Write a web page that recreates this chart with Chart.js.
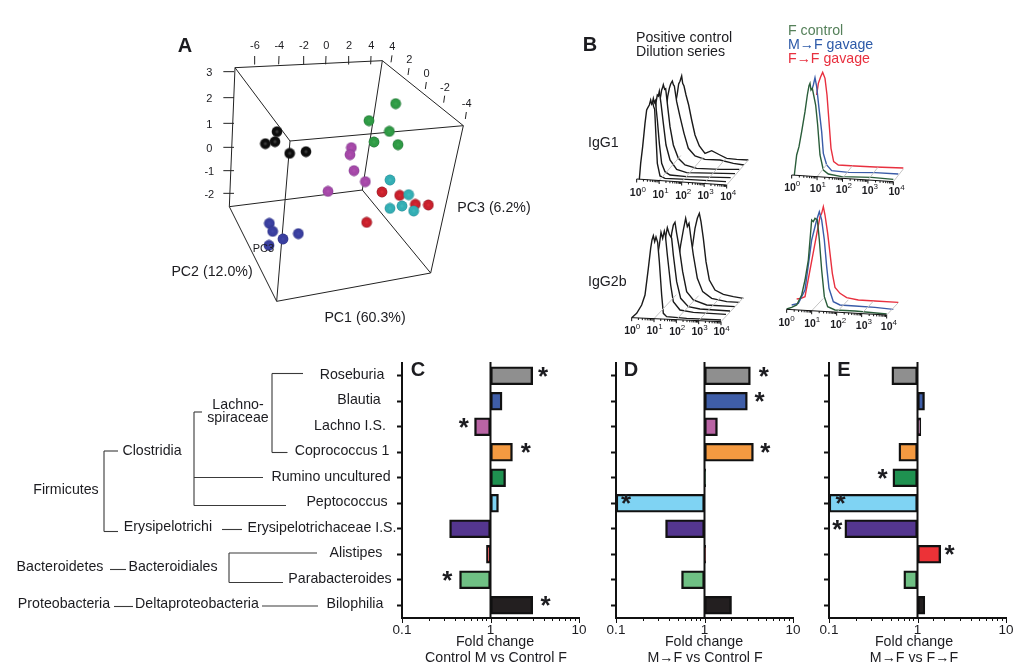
<!DOCTYPE html>
<html>
<head>
<meta charset="utf-8">
<title>Gut microbiota panels</title>
<script src="https://cdn.jsdelivr.net/npm/chart.js@4"></script>
<style>
    html, body { margin: 0; background: #fff; }
    #page { position: relative; width: 1025px; height: 669px; overflow: hidden; }
    #page canvas { position: absolute; }
</style>
</head>
<body>
<div id="page"></div>
<script>
const FONT = '"Liberation Sans", Arial, sans-serif';
const INK = '#1c1c20';

// ---- Panels C, D, E: fold change per genus ----
const genera = ['Roseburia', 'Blautia', 'Lachno I.S.', 'Coprococcus 1', 'Rumino uncultured', 'Peptococcus',
    'Erysipelotrichaceae I.S.', 'Alistipes', 'Parabacteroides', 'Bilophilia'];
const generaX = [352, 359, 350, 342, 331, 347, 322, 356, 340, 355];
const generaY = [375, 400, 426, 451, 477, 502, 528, 553, 579, 604];
const barColors = ['#8f8f8f', '#3f5ea8', '#b964a4', '#f49a41', '#1f9150', '#7fd3f3', '#54368f', '#ec3237', '#6fc084', '#231f20'];

const foldC = [3.0, 1.35, 0.66, 1.77, 1.48, 1.23, 0.345, 0.9, 0.447, 3.0];
const foldD = [3.3, 3.05, 1.4, 3.57, 1.03, 0.1, 0.363, 1.03, 0.55, 2.02];
const foldE = [0.513, 1.2, 1.09, 0.616, 0.527, 0.1, 0.151, 1.83, 0.70, 1.21];

const starsC = [3.93, null, 0.5, 2.5, null, null, null, null, 0.325, 4.2];
const starsD = [4.67, 4.2, null, 4.87, null, 0.13, null, null, null, null];
const starsE = [null, null, null, null, 0.403, 0.135, 0.124, 2.3, null, null];

// ---- Panel A: PCoA points as projected on the page (crop units) ----
const pcaBlack = [[351, 305], [345, 335], [316, 341], [389, 370], [438, 365]];
const pcaGreen = [[707, 221], [627, 272], [688, 304], [642, 336], [714, 344]];
const pcaPurple = [[574, 353], [570, 374], [582, 422], [616, 455], [504, 484]];
const pcaCyan = [[690, 450], [746, 494], [726, 528], [690, 535], [761, 543]];
const pcaRed = [[666, 486], [719, 496], [766, 523], [805, 525], [620, 577]];
const pcaBlue = [[328, 580], [338, 604], [415, 611], [369, 627], [327, 646]];

const cubeEdges = [
    [[225, 113], [667, 92]], [[667, 92], [910, 287]], [[910, 287], [390, 333]], [[390, 333], [225, 113]],
    [[225, 113], [208, 530]], [[667, 92], [607, 480]], [[910, 287], [812, 729]], [[390, 333], [350, 814]],
    [[208, 530], [607, 480]], [[607, 480], [812, 729]], [[812, 729], [350, 814]], [[350, 814], [208, 530]]
];
const topTicks = ['-6', '-4', '-2', '0', '2', '4'];
const topTickX = [283, 356, 430, 497, 565, 632];
const sideTicks = ['4', '2', '0', '-2', '-4'];
const sideTickX = [697, 748, 800, 855, 920];
const sideTickY = [52, 90, 132, 173, 222];
const leftTicks = ['3', '2', '1', '0', '-1', '-2'];
const leftTickY = [125, 203, 280, 352, 422, 490];

// ---- Panel B: flow cytometry histograms (crop units), front trace first ----
const igg1Dilution = [
    [[58, 328], [62, 280], [68, 230], [72, 190], [75, 160], [80, 120], [84, 112], [88, 105], [92, 90], [95, 102], [98, 96], [101, 110], [104, 118], [108, 200], [112, 280], [120, 318], [135, 325], [200, 328], [318, 335]],
    [[90, 150], [95, 108], [100, 85], [103, 98], [106, 92], [112, 150], [118, 220], [125, 280], [135, 305], [150, 315], [200, 320], [332, 323]],
    [[104, 150], [108, 98], [112, 75], [115, 78], [118, 64], [123, 100], [130, 160], [138, 225], [150, 270], [170, 298], [200, 308], [345, 311]],
    [[116, 140], [120, 90], [125, 60], [128, 52], [130, 44], [134, 58], [137, 56], [143, 110], [150, 170], [160, 225], [175, 265], [195, 285], [230, 295], [300, 298], [358, 298]],
    [[138, 130], [143, 80], [148, 55], [152, 42], [157, 33], [160, 44], [163, 48], [170, 95], [180, 140], [192, 190], [205, 235], [225, 258], [255, 268], [300, 270], [340, 280], [372, 285]],
    [[165, 110], [172, 70], [176, 42], [180, 34], [185, 18], [188, 40], [192, 48], [198, 75], [206, 105], [215, 150], [225, 195], [238, 228], [255, 250], [275, 242], [300, 255], [320, 265], [350, 268], [385, 270]]
];
const igg2bDilution = [
    [[35, 338], [50, 325], [65, 300], [75, 270], [85, 190], [92, 130], [96, 105], [100, 92], [104, 110], [108, 96], [113, 112], [118, 170], [125, 270], [130, 325], [140, 335], [200, 340], [303, 345]],
    [[113, 150], [118, 120], [123, 82], [128, 100], [133, 78], [136, 90], [142, 150], [152, 240], [160, 290], [180, 315], [220, 322], [318, 328]],
    [[132, 130], [137, 95], [142, 68], [148, 88], [155, 100], [160, 150], [170, 230], [182, 280], [205, 305], [240, 312], [330, 318]],
    [[150, 130], [155, 85], [160, 60], [165, 52], [170, 85], [178, 130], [188, 200], [200, 260], [220, 285], [260, 300], [345, 305]],
    [[178, 145], [182, 120], [190, 75], [197, 40], [202, 65], [207, 55], [213, 100], [220, 150], [232, 220], [248, 260], [275, 280], [320, 290], [358, 292]],
    [[214, 150], [218, 120], [225, 70], [232, 40], [238, 25], [243, 50], [250, 100], [258, 170], [268, 225], [285, 255], [310, 268], [340, 275], [370, 280]]
];
const igg1GreenTrace = [[58, 330], [65, 270], [72, 245], [80, 200], [90, 140], [97, 90], [102, 62], [105, 55], [108, 75], [112, 70], [122, 120], [128, 180], [135, 270], [145, 315], [160, 327], [200, 335], [290, 337], [355, 343]];
const igg1BlueTrace = [[112, 70], [115, 60], [120, 38], [125, 65], [132, 130], [140, 200], [145, 265], [155, 300], [170, 317], [220, 322], [300, 323], [370, 327]];
const igg1RedTrace = [[125, 90], [130, 55], [137, 35], [143, 22], [150, 40], [156, 90], [162, 170], [168, 250], [176, 290], [190, 300], [240, 303], [300, 306], [385, 309]];
const igg2bGreenTrace = [[35, 327], [50, 322], [65, 315], [80, 285], [90, 240], [100, 180], [110, 60], [115, 65], [120, 55], [127, 60], [133, 120], [140, 210], [148, 290], [158, 320], [180, 330], [240, 333], [335, 342]];
const igg2bBlueTrace = [[50, 315], [70, 310], [90, 270], [110, 120], [125, 60], [133, 35], [140, 60], [148, 120], [155, 200], [162, 265], [175, 305], [195, 315], [240, 318], [300, 322], [355, 328]];
const igg2bRedTrace = [[65, 297], [78, 295], [90, 290], [135, 50], [140, 40], [145, 20], [150, 45], [158, 100], [165, 160], [172, 220], [180, 262], [195, 280], [215, 293], [250, 300], [300, 303], [370, 307]];
const decadeLabels = ['0', '1', '2', '3', '4'];

// ---- Taxonomy tree lines and labels (page px) ----
const treeSegments = [
    [272, 373.5, 272, 452.5], [272, 373.5, 303, 373.5], [272, 452.5, 287.5, 452.5],
    [194, 412, 194, 505.5], [194, 412, 202, 412], [194, 477.5, 263, 477.5], [194, 505.5, 286, 505.5],
    [104, 451, 104, 531.5], [104, 451, 118, 451], [104, 531.5, 118, 531.5], [222, 529.5, 242, 529.5],
    [229, 553, 229, 582.5], [229, 553, 317, 553], [229, 582.5, 283, 582.5],
    [110, 569.5, 126, 569.5], [114, 606.5, 133, 606.5], [262, 606, 318, 606]
];
const treeLabels = [
    ['Firmicutes', 66, 490], ['Clostridia', 152, 451], ['Erysipelotrichi', 168, 527],
    ['Lachno-', 238, 405], ['spiraceae', 238, 418], ['Bacteroidetes', 60, 567],
    ['Bacteroidiales', 173, 567], ['Proteobacteria', 64, 604], ['Deltaproteobacteria', 197, 604]
];

function addCanvas(x, y, w, h) {
    const canvas = document.createElement('canvas');
    canvas.width = w;
    canvas.height = h;
    canvas.style.left = x + 'px';
    canvas.style.top = y + 'px';
    canvas.style.width = w + 'px';
    canvas.style.height = h + 'px';
    document.getElementById('page').appendChild(canvas);
    return canvas;
}

/** Writes text items through the chart's own x and y scales. */
function notesPlugin(items) {
    return {
        id: 'notes',
        afterDraw(chart) {
            const ctx = chart.ctx;
            ctx.save();
            items.forEach(item => {
                const px = chart.scales.x.getPixelForValue(item.x);
                const py = chart.scales.y.getPixelForValue(item.y);
                ctx.fillStyle = item.color || INK;
                ctx.font = item.font || `14.2px ${FONT}`;
                ctx.textAlign = item.align || 'center';
                ctx.textBaseline = 'middle';
                ctx.fillText(item.text, px, py);
                if (item.sup) {
                    const w = ctx.measureText(item.text).width;
                    ctx.font = `8px ${FONT}`;
                    ctx.textAlign = 'left';
                    ctx.fillText(item.sup, px + w / 2, py - 4);
                }
            });
            ctx.restore();
        }
    };
}

function edge(a, b, color, width) {
    return {
        data: [{ x: a[0], y: a[1] }, { x: b[0], y: b[1] }],
        showLine: true, pointRadius: 0, borderColor: color, borderWidth: width, tension: 0
    };
}

/** Scatter chart with hidden axes that span the given crop units. */
function flatChart(canvas, maxX, maxY, datasets, items, extraPlugins = []) {
    return new Chart(canvas, {
        type: 'scatter',
        data: { datasets },
        options: {
            responsive: false,
            animation: false,
            events: [],
            layout: { padding: 0, autoPadding: false },
            plugins: { legend: { display: false }, tooltip: { enabled: false } },
            scales: {
                x: { type: 'linear', display: false, min: 0, max: maxX },
                y: { type: 'linear', display: false, min: 0, max: maxY, reverse: true }
            }
        },
        plugins: [notesPlugin(items), ...extraPlugins]
    });
}

function drawPage() {
    const texts = [
        { text: 'A', x: 185, y: 46, font: `bold 20px ${FONT}` },
        { text: 'B', x: 590, y: 45, font: `bold 20px ${FONT}` },
        { text: 'C', x: 418, y: 370, font: `bold 20px ${FONT}` },
        { text: 'D', x: 631, y: 370, font: `bold 20px ${FONT}` },
        { text: 'E', x: 844, y: 370, font: `bold 20px ${FONT}` },
        { text: 'Positive control', x: 636, y: 38, align: 'left' },
        { text: 'Dilution series', x: 636, y: 52, align: 'left' },
        { text: 'F control', x: 788, y: 31, align: 'left', color: '#55805a' },
        { text: 'M\u2192F gavage', x: 788, y: 45, align: 'left', color: '#2d5aa8' },
        { text: 'F\u2192F gavage', x: 788, y: 59, align: 'left', color: '#e8303f' },
        { text: 'IgG1', x: 588, y: 143, align: 'left' },
        { text: 'IgG2b', x: 588, y: 282, align: 'left' },
        { text: 'PC3 (6.2%)', x: 494, y: 208 },
        { text: 'PC2 (12.0%)', x: 212, y: 272 },
        { text: 'PC1 (60.3%)', x: 365, y: 318 },
        { text: 'Fold change', x: 495, y: 642 },
        { text: 'Control M vs Control F', x: 496, y: 658 },
        { text: 'Fold change', x: 704, y: 642 },
        { text: 'M\u2192F vs Control F', x: 705, y: 658 },
        { text: 'Fold change', x: 914, y: 642 },
        { text: 'M\u2192F vs F\u2192F', x: 914, y: 658 }
    ];
    genera.forEach((name, i) => texts.push({ text: name, x: generaX[i], y: generaY[i] }));
    treeLabels.forEach(([text, x, y]) => texts.push({ text, x, y }));
    const lines = treeSegments.map(s => edge([s[0], s[1]], [s[2], s[3]], '#3a3a3a', 1.1));
    flatChart(addCanvas(0, 0, 1025, 669), 1025, 669, lines, texts);
}

function ballSprite(core, color, rim) {
    const sprite = document.createElement('canvas');
    sprite.width = 12;
    sprite.height = 12;
    const g = sprite.getContext('2d');
    const shade = g.createRadialGradient(6, 6, 0.5, 6, 6, 5.5);
    shade.addColorStop(0, core);
    shade.addColorStop(0.35, color);
    shade.addColorStop(0.75, color);
    shade.addColorStop(1, rim);
    g.fillStyle = shade;
    g.beginPath();
    g.arc(6, 6, 5.4, 0, Math.PI * 2);
    g.fill();
    return sprite;
}

function drawPanelA() {
    const groups = [
        [pcaBlack, '#3c3c3c', '#0d0d0d', '#2a2a2a'], [pcaGreen, '#39a54e', '#2f9a45', '#1f6e33'],
        [pcaPurple, '#b050b0', '#a548a8', '#80408f'], [pcaCyan, '#40b8bc', '#33aeb4', '#2a8c96'],
        [pcaRed, '#d82a34', '#c8202c', '#8e1f2a'], [pcaBlue, '#4347a8', '#3a3f9f', '#2d3183']
    ];
    const datasets = groups.map(([pts, core, color, rim]) => ({
        data: pts.map(p => ({ x: p[0], y: p[1] })),
        pointStyle: ballSprite(core, color, rim)
    }));
    cubeEdges.forEach(e => datasets.push(edge(e[0], e[1], '#222', 1)));
    topTickX.forEach(x => datasets.push(edge([x, 103], [x + 1, 78], '#222', 1)));
    sideTickX.forEach((x, i) => datasets.push(edge([x - 4, sideTickY[i] + 45], [x - 1, sideTickY[i] + 24], '#222', 1)));
    leftTickY.forEach(y => datasets.push(edge([190, y], [222, y], '#222', 1)));

    const small = `11px ${FONT}`;
    const items = [{ text: 'PC3', x: 310, y: 657, font: small }];
    topTicks.forEach((text, i) => items.push({ text, x: topTickX[i] + 2, y: 48, font: small }));
    sideTicks.forEach((text, i) => items.push({ text, x: sideTickX[i], y: sideTickY[i], font: small }));
    leftTicks.forEach((text, i) => items.push({ text, x: 148, y: leftTickY[i] + 4, font: small }));
    flatChart(addCanvas(160, 30, 330, 310), 990, 930, datasets, items);
}

/** One waterfall plot: traces are listed front first, the floor is a grey grid. */
function drawHistogram(box, traces, colors, filled, base, back, labelX, labelY) {
    const datasets = [];
    const [x0, y0] = base[0];
    const [x1, y1] = base[1];
    for (let d = 0; d <= 4; d++) {
        const tx = x0 + (x1 - x0) * d / 4;
        const ty = y0 + (y1 - y0) * d / 4;
        if (d > 0) datasets.push(edge([tx, ty], [tx + back[0], ty + back[1]], '#c4c4c4', 1));
    }
    traces.forEach((trace, i) => datasets.push({
        data: trace.map(p => ({ x: p[0], y: p[1] })),
        showLine: true, pointRadius: 0, tension: 0, borderWidth: 1.4, borderColor: colors[i],
        fill: filled ? { value: 405 } : false, backgroundColor: '#fff'
    }));
    const items = decadeLabels.map((sup, i) => ({
        text: '10', sup, x: labelX[i], y: labelY[i], font: `bold 10.5px ${FONT}`
    }));
    const axisPlugin = {
        id: 'histAxis',
        afterDraw(chart) {
            const { ctx, scales } = chart;
            const px = v => scales.x.getPixelForValue(v);
            const py = v => scales.y.getPixelForValue(v);
            ctx.save();
            ctx.strokeStyle = '#111';
            ctx.lineWidth = 1;
            ctx.beginPath();
            ctx.moveTo(px(x0), py(y0));
            ctx.lineTo(px(x1), py(y1));
            for (let d = 0; d < 4; d++) {
                for (let m = 1; m < 10; m++) {
                    const t = (d + Math.log10(m)) / 4;
                    const tx = px(x0 + (x1 - x0) * t);
                    const ty = py(y0 + (y1 - y0) * t);
                    ctx.moveTo(tx, ty);
                    ctx.lineTo(tx, ty + (m === 1 ? 3.5 : 2));
                }
            }
            ctx.moveTo(px(x1), py(y1));
            ctx.lineTo(px(x1), py(y1) + 3.5);
            ctx.stroke();
            ctx.restore();
        }
    };
    flatChart(addCanvas(box[0], box[1], 135, 135), 405, 405, datasets, items, [axisPlugin]);
}

/** Log scale bars that start at a fold change of 1, with starred significance. */
function drawFoldChart(leftPx, rightPx, values, stars) {
    const starPlugin = {
        id: 'foldMarks',
        afterDatasetsDraw(chart) {
            const { ctx, scales, chartArea } = chart;
            ctx.save();
            ctx.strokeStyle = '#111';
            ctx.lineWidth = 2;
            ctx.beginPath();
            ctx.moveTo(scales.x.getPixelForValue(1), chartArea.top - 1);
            ctx.lineTo(scales.x.getPixelForValue(1), chartArea.bottom);
            ctx.stroke();
            ctx.lineWidth = 1;
            ctx.beginPath();
            scales.x.ticks.forEach(tick => {
                const px = Math.round(scales.x.getPixelForValue(tick.value)) + 0.5;
                const major = Math.abs(Math.log10(tick.value) % 1) < 1e-6;
                ctx.moveTo(px, chartArea.bottom);
                ctx.lineTo(px, chartArea.bottom + (major ? 5 : 3));
            });
            ctx.stroke();
            ctx.fillStyle = INK;
            ctx.font = `bold 26px ${FONT}`;
            ctx.textAlign = 'center';
            ctx.textBaseline = 'alphabetic';
            stars.forEach((star, i) => {
                if (star === null) return;
                ctx.fillText('*', scales.x.getPixelForValue(star), scales.y.getPixelForValue(i) + 9);
            });
            ctx.restore();
        }
    };
    const canvas = addCanvas(leftPx - 22, 355, rightPx - leftPx + 43, 314);
    new Chart(canvas, {
        type: 'bar',
        data: {
            labels: genera,
            datasets: [{
                data: values.map(v => [1, v]),
                backgroundColor: barColors,
                borderColor: '#111',
                borderWidth: 2.4,
                borderSkipped: false,
                barThickness: 18
            }]
        },
        options: {
            indexAxis: 'y',
            responsive: false,
            animation: false,
            events: [],
            layout: { padding: { top: 8, right: 21, left: 0, bottom: 0 } },
            plugins: { legend: { display: false }, tooltip: { enabled: false } },
            scales: {
                x: {
                    type: 'logarithmic',
                    min: 0.1,
                    max: 10,
                    afterFit(scale) { scale.height = 51; },
                    border: { color: '#111', width: 2 },
                    grid: { display: false, tickLength: 4 },
                    ticks: {
                        color: INK,
                        font: { size: 13.5, family: FONT },
                        autoSkip: false,
                        maxRotation: 0,
                        padding: 0,
                        callback: v => (Math.abs(Math.log10(v) % 1) < 1e-6 ? String(v) : '')
                    }
                },
                y: {
                    afterFit(scale) { scale.width = 22; },
                    border: { color: '#111', width: 2 },
                    grid: { offset: false, drawOnChartArea: false, tickLength: 5, tickColor: '#111', tickWidth: 2 },
                    ticks: { display: false }
                }
            }
        },
        plugins: [starPlugin]
    });
}

document.addEventListener('DOMContentLoaded', () => {
    drawPage();
    drawPanelA();
    const black = ['#1a1a1a', '#1a1a1a', '#1a1a1a', '#1a1a1a', '#1a1a1a', '#1a1a1a'];
    const treatment = ['#2a5d3a', '#3a5ca8', '#e8303f'];
    drawHistogram([620, 70], igg1Dilution, black, true, [[50, 327], [320, 345]], [65, -75],
        [47, 115, 183, 250, 318], [370, 374, 377, 377, 380]);
    drawHistogram([620, 205], igg2bDilution, black, true, [[35, 338], [303, 350]], [67, -72],
        [30, 97, 165, 232, 298], [378, 378, 380, 380, 382]);
    drawHistogram([775, 65], [igg1GreenTrace, igg1BlueTrace, igg1RedTrace], treatment, false, [[50, 330], [355, 350]], [30, -38],
        [45, 122, 200, 278, 358], [368, 372, 375, 378, 380]);
    drawHistogram([775, 200], [igg2bGreenTrace, igg2bBlueTrace, igg2bRedTrace], treatment, false, [[35, 328], [335, 345]], [35, -37],
        [28, 105, 183, 260, 335], [368, 372, 375, 378, 380]);
    drawFoldChart(402, 579, foldC, starsC);
    drawFoldChart(616, 793, foldD, starsD);
    drawFoldChart(829, 1006, foldE, starsE);
});
</script>
</body>
</html>
